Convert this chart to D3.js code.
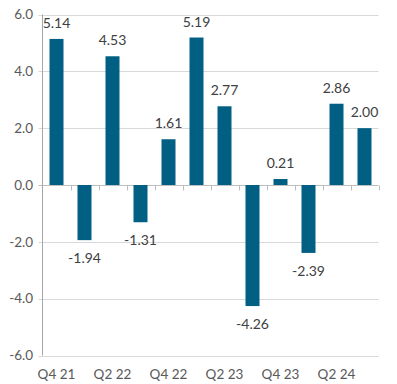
<!DOCTYPE html>
<html>
<head>
    <meta charset="utf-8">
    <script src="https://d3js.org/d3.v7.min.js"></script>
    <style>
        body { margin: 0; background: #fff; }
        text { font-family: Lato, "Open Sans", sans-serif; }
    </style>
</head>
<body>
<script>

    var quarters = ['Q4 21','Q1 22','Q2 22','Q3 22','Q4 22','Q1 23','Q2 23','Q3 23','Q4 23','Q1 24','Q2 24','Q3 24'];
    var values = [5.14, -1.94, 4.53, -1.31, 1.61, 5.19, 2.77, -4.26, 0.21, -2.39, 2.86, 2.00];
    var yTicks = [-6, -4, -2, 0, 2, 4, 6];
    var xLabels = ['Q4 21','Q2 22','Q4 22','Q2 23','Q4 23','Q2 24'];

    var width = 397;
    var height = 384;
    var padL = 42.5, padR = 378.5, padT = 14.5, padB = 355.5;

    var data = quarters.map(function(q, i) { return {q: q, v: values[i]}; });

    var xScale = d3.scaleBand()
        .domain(quarters)
        .range([padL, padR])
        .paddingInner(0.5)
        .paddingOuter(0.25);

    var yScale = d3.scaleLinear()
        .domain([-6, 6])
        .range([padB, padT]);

    var svg = d3.select('body').append('svg')
        .attr('width', width)
        .attr('height', height);

    // gridlines
    svg.append('g').selectAll('line').data(yTicks)
        .enter().append('line')
        .attr('x1', padL - 4)
        .attr('x2', padR)
        .attr('y1', function(d) { return Math.round(yScale(d)) + 0.5; })
        .attr('y2', function(d) { return Math.round(yScale(d)) + 0.5; })
        .attr('stroke', function(d) { return d === 0 ? '#bfbfbf' : '#d9d9d9'; })
        .attr('stroke-width', 1);

    // y labels
    svg.append('g').selectAll('text').data(yTicks)
        .enter().append('text')
        .attr('x', 33)
        .attr('y', function(d) { return yScale(d); })
        .attr('dy', '0.35em')
        .attr('text-anchor', 'end')
        .attr('font-size', 13.5)
        .attr('fill', '#595959')
        .text(function(d) { return d.toFixed(1); });

    // category ticks on zero line
    var step = xScale.step();
    var zeroY = Math.round(yScale(0)) + 0.5;
    svg.append('g').selectAll('line').data(d3.range(1, quarters.length + 1))
        .enter().append('line')
        .attr('x1', function(k) { return Math.round(padL + k * step) + 0.5; })
        .attr('x2', function(k) { return Math.round(padL + k * step) + 0.5; })
        .attr('y1', zeroY)
        .attr('y2', zeroY + 5)
        .attr('stroke', '#bfbfbf');

    // left axis line
    svg.append('line')
        .attr('x1', padL).attr('x2', padL)
        .attr('y1', padT).attr('y2', padB)
        .attr('stroke', '#a6a6a6');

    // bars
    svg.append('g').selectAll('rect').data(data)
        .enter().append('rect')
        .attr('x', function(d) { return xScale(d.q); })
        .attr('width', xScale.bandwidth())
        .attr('y', function(d) { return yScale(Math.max(0, d.v)); })
        .attr('height', function(d) { return Math.abs(yScale(d.v) - yScale(0)); })
        .attr('fill', '#005f83');

    // value labels
    svg.append('g').selectAll('text').data(data)
        .enter().append('text')
        .attr('x', function(d) { return xScale(d.q) + xScale.bandwidth() / 2; })
        .attr('y', function(d) { return d.v >= 0 ? yScale(d.v) - 11 : yScale(d.v) + 23; })
        .attr('text-anchor', 'middle')
        .attr('font-size', 14)
        .attr('fill', '#404040')
        .text(function(d) { return d.v.toFixed(2); });

    // x labels
    svg.append('g').selectAll('text').data(xLabels)
        .enter().append('text')
        .attr('x', function(d) { return xScale(d) + xScale.bandwidth() / 2; })
        .attr('y', 379)
        .attr('text-anchor', 'middle')
        .attr('font-size', 13.5)
        .attr('fill', '#595959')
        .text(function(d) { return d; });

</script>
</body>
</html>
